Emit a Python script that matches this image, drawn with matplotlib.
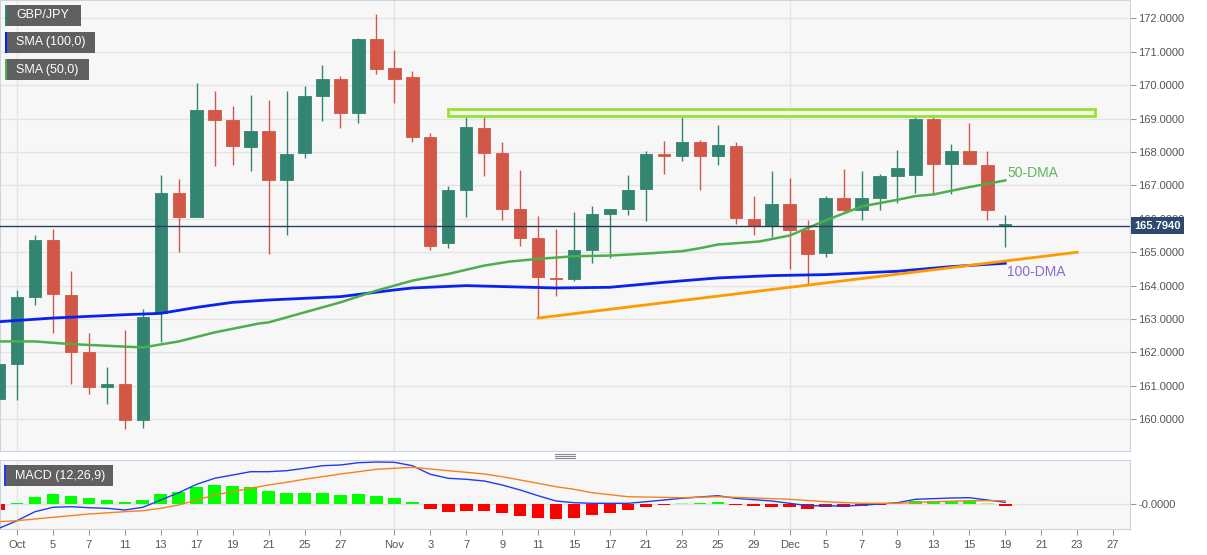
import matplotlib
matplotlib.use("Agg")
import matplotlib.pyplot as plt
from matplotlib.patches import Rectangle
from matplotlib.lines import Line2D
import matplotlib.transforms as mtransforms
import numpy as np

plt.rcParams['font.family'] = ['Liberation Sans', 'DejaVu Sans']

# trading day index: -1 = Sep 30, 0 = Oct 3 ... 55 = Dec 19
day_idx = list(range(-1, 56))

opens = [160.60, 161.65, 163.67, 165.37, 163.73, 162.00, 160.97, 161.05, 159.97, 163.17,
         166.78, 166.05, 169.25, 168.95, 168.15, 168.63, 167.15, 167.97, 169.69, 170.20,
         169.18, 171.37, 170.50, 170.24, 168.44, 165.27, 166.87, 168.73, 167.98, 166.28,
         165.42, 164.24, 164.20, 165.08, 166.15, 166.30, 166.90, 167.93, 167.89, 168.29,
         167.87, 168.17, 166.00, 165.80, 166.45, 165.67, 164.98, 166.63, 166.25, 166.63,
         167.27, 167.32, 168.98, 167.63, 168.02, 167.62, 165.78]
highs = [162.15, 163.87, 165.52, 165.70, 164.43, 162.58, 161.57, 162.67, 163.30, 167.30,
         167.20, 170.08, 169.83, 169.37, 169.72, 169.57, 169.82, 169.97, 170.60, 170.27,
         171.40, 172.12, 171.05, 170.43, 168.58, 166.97, 169.07, 169.07, 168.30, 167.45,
         166.08, 165.70, 166.21, 166.39, 166.30, 167.32, 168.03, 168.32, 169.05, 168.35,
         168.80, 168.29, 166.67, 167.42, 167.23, 165.97, 166.67, 167.50, 167.42, 167.33,
         168.05, 169.05, 169.25, 168.23, 168.87, 168.02, 166.12]
lows = [159.40, 160.57, 163.42, 162.57, 161.07, 160.75, 160.45, 159.70, 159.73, 162.30,
        165.02, 166.05, 167.57, 167.62, 167.42, 164.95, 165.52, 167.83, 168.93, 168.73,
        168.87, 170.33, 169.48, 168.30, 165.07, 165.13, 166.05, 167.28, 165.97, 165.18,
        163.03, 163.68, 164.15, 164.67, 164.82, 166.10, 165.92, 167.35, 167.72, 166.85,
        167.62, 165.85, 165.53, 165.45, 164.50, 164.03, 164.85, 166.17, 165.97, 166.27,
        166.47, 166.78, 166.78, 166.73, 167.63, 165.97, 165.17]
closes = [161.65, 163.65, 165.37, 163.75, 162.00, 160.97, 161.05, 159.97, 163.07, 166.78,
          166.05, 169.25, 168.95, 168.17, 168.63, 167.15, 167.95, 169.69, 170.20, 169.18,
          171.37, 170.47, 170.20, 168.45, 165.20, 166.87, 168.75, 167.98, 166.30, 165.44,
          164.25, 164.19, 165.07, 166.14, 166.30, 166.85, 167.93, 167.89, 168.29, 167.87,
          168.20, 166.02, 165.80, 166.45, 165.67, 164.95, 166.63, 166.25, 166.63, 167.27,
          167.53, 168.98, 167.63, 168.02, 167.63, 166.25, 165.794]

last_price = 165.794

sma100_idx = [-1, 2, 6, 8, 10, 12, 14, 18, 21, 22, 25, 30, 33, 36, 39, 42, 45, 49, 52, 55]
sma100_val = [162.92, 163.03, 163.13, 163.17, 163.35, 163.50, 163.57, 163.67, 163.87, 163.93,
              164.00, 163.93, 163.95, 164.10, 164.23, 164.30, 164.33, 164.43, 164.57, 164.67]

sma50_idx = [-1, 1, 3, 5, 7, 9, 11, 13.5, 14, 16, 18, 20, 21, 22, 24, 26, 27.4, 29, 31, 33,
             35, 37, 38, 39, 41.3, 43, 45, 47, 49, 50, 51, 53, 55]
sma50_val = [162.33, 162.33, 162.25, 162.20, 162.15, 162.33, 162.60, 162.87, 162.90, 163.20,
             163.50, 163.85, 164.00, 164.15, 164.35, 164.60, 164.72, 164.80, 164.88, 164.90,
             164.96, 165.03, 165.12, 165.23, 165.32, 165.50, 165.95, 166.37, 166.57, 166.68,
             166.73, 166.95, 167.15]

trend_idx = [29, 59]
trend_val = [163.03, 165.00]

resist_idx = [24, 60]
resist_val = [169.09, 169.29]

macd_hist = [-6, 1.3, 7.3, 9.7, 8, 5.7, 4, 1.7, 4, 9.7, 12, 17, 19, 18, 16.7, 13, 11.3,
             11.3, 11.3, 9.3, 9.7, 8, 6, 2, -5.3, -7.7, -7, -7, -9.3, -11.7, -13.7, -15,
             -13.7, -11.3, -8.7, -6.3, -3, -1, 0.7, 1, 2, -0.5, -2.3, -2.7, -3.3, -5, -3.3,
             -3, -2, -0.7, 0.7, 3, 3, 3, 2.7, 0.7, -1.7]

macd_idx = [-1, 0, 1, 2, 3, 4, 5, 6, 7, 8, 9, 10, 11, 12, 13, 14, 15, 16, 17, 18, 19, 20,
            21, 22, 23, 24, 25, 26, 27, 28, 29, 30, 31, 32, 34, 35, 37, 39, 40, 42, 43, 44,
            46, 47, 48, 49, 50, 52, 53, 54, 55]
macd_val = [-24.3, -16.7, -7.7, -3.3, -2.7, -3.7, -4.3, -6, -3.3, 4, 11.3, 19.7, 25.7, 29,
            32.3, 32.3, 33.3, 35.7, 38.3, 39, 41.3, 42, 41.7, 38.3, 29.7, 25.7, 24.7, 23, 19,
            14, 8.3, 3, 1.3, 0.7, 0.7, 2.3, 5.7, 8.3, 5.7, 3, 0.7, -1.7, -2, -1.3, 0, 1.3,
            4.7, 6, 6.3, 4, 1.7]

signal_idx = [-1, 0, 2, 4, 6, 7, 8, 9, 10, 11, 12, 13, 14, 15, 16, 17, 18, 19, 20, 21, 22,
              23, 24, 25, 26, 27, 28, 29, 30, 31, 32, 34, 37, 39, 41, 43, 45, 47, 49, 51, 53, 55]
signal_val = [-17.7, -16.7, -13.3, -10, -7.7, -6.7, -4.3, -1, 4, 9, 12.3, 15.7, 19, 21.7,
              24.7, 27.3, 30, 32.3, 34.7, 35.7, 36.7, 35, 33.3, 31.7, 30, 27.3, 24, 20.7,
              17.3, 14.7, 11.3, 7.3, 6.3, 7.3, 6, 4.7, 2.3, 0.7, 0.7, 2.3, 3.3, 3.3]

tick_idx = [0, 2, 4, 6, 8, 10, 12, 14, 16, 18, 21, 23, 25, 27, 29, 31, 33, 35, 37, 39, 41,
            43, 45, 47, 49, 51, 53, 55, 57, 59, 61]
tick_labels = ["Oct", "5", "7", "11", "13", "17", "19", "21", "25", "27", "Nov", "3", "7",
               "9", "11", "15", "17", "21", "23", "25", "29", "Dec", "5", "7", "9", "13",
               "15", "19", "21", "23", "27"]
month_idx = [0, 21, 43]

W, H = 1207, 555
fig = plt.figure(figsize=(W / 100, H / 100), dpi=100)
fig.patch.set_facecolor("white")

ax = fig.add_axes([0, 1 - 451 / H, 1130 / W, 451 / H])
axm = fig.add_axes([0, 1 - 529 / H, 1130 / W, 69 / H])

xmin, xmax = -0.946, 61.94
GREEN = "#338571"
RED = "#d35746"
GRID = "#e4e4e4"
SPINE = "#cdd3e4"
TXT = "#555555"

for a in (ax, axm):
    a.set_facecolor("#f7f7f7")
    a.set_xlim(xmin, xmax)
    for s in a.spines.values():
        s.set_color(SPINE)
    for m in month_idx:
        a.axvline(m, color=GRID, lw=1, zorder=0)

# candles
for i, o, h, l, c in zip(day_idx, opens, highs, lows, closes):
    col = GREEN if c >= o else RED
    ax.plot([i, i], [l, h], color=col, lw=1, zorder=2, solid_capstyle="butt")
    bot = min(o, c)
    hgt = max(abs(c - o), 0.05)
    ax.add_patch(Rectangle((i - 0.345, bot), 0.69, hgt, facecolor=col,
                           edgecolor=col, lw=0.6, zorder=3))

ax.plot(sma100_idx, sma100_val, color="#0a22f0", lw=2, zorder=4)
ax.plot(sma50_idx, sma50_val, color="#4cae4c", lw=1.8, zorder=4)
ax.plot(trend_idx, trend_val, color="#ff9a00", lw=2, zorder=4)
ax.add_patch(Rectangle((resist_idx[0], resist_val[0]), resist_idx[1] - resist_idx[0],
                       resist_val[1] - resist_val[0], facecolor="#f4faec",
                       edgecolor="#96e234", lw=2, zorder=4))
ax.axhline(last_price, color="#2b3f5c", lw=1, zorder=5)

ax.text(55.1, 167.37, "50-DMA", color="#5cb85c", fontsize=10, va="center", zorder=6)
ax.text(55.1, 164.41, "100-DMA", color="#8a6cd0", fontsize=10, va="center", zorder=6)

ax.set_ylim(159.05, 172.55)
ax.set_yticks(np.arange(160, 173, 1))
ax.yaxis.set_major_formatter(matplotlib.ticker.FormatStrFormatter("%.4f"))
ax.yaxis.tick_right()
ax.tick_params(axis="y", colors="#999999", labelcolor=TXT, labelsize=8, length=4, pad=2)
ax.set_xticks([])
ax.grid(axis="y", color=GRID, lw=1, zorder=0)
ax.set_axisbelow(True)

tr = mtransforms.blended_transform_factory(ax.transAxes, ax.transData)
ax.text(1.004, last_price, "165.7940", transform=tr, color="white", fontsize=8,
        fontweight="bold", va="center", ha="left", zorder=10, clip_on=False,
        bbox=dict(boxstyle="square,pad=0.3", fc="#2d4a6e", ec="none"))

# MACD panel
hist_cols = []
for v in macd_hist:
    if v >= 0:
        hist_cols.append("#a8f0a8" if v < 0.9 else "#00ff00")
    else:
        hist_cols.append("#ff0000")
axm.bar(day_idx, macd_hist, width=0.7, color=hist_cols, zorder=2)
axm.plot(macd_idx, macd_val, color="#1f3cf0", lw=1, zorder=3)
axm.plot(signal_idx, signal_val, color="#f5821f", lw=1, zorder=3)
axm.axhline(0, color=GRID, lw=1, zorder=1)
axm.set_ylim(-25, 44)
axm.set_yticks([0])
axm.set_yticklabels(["-0.0000"])
axm.yaxis.tick_right()
axm.tick_params(axis="y", colors="#999999", labelcolor=TXT, labelsize=8, length=4, pad=2)
axm.set_xticks(tick_idx)
axm.set_xticklabels(tick_labels)
axm.tick_params(axis="x", colors="#999999", labelcolor=TXT, labelsize=8, length=4, pad=4)

# legend boxes
def label_box(x0, y0, w, h, text, strip):
    fig.add_artist(Rectangle((x0 / W, 1 - (y0 + h) / H), w / W, h / H,
                             transform=fig.transFigure, facecolor="#606060",
                             edgecolor="none", zorder=20))
    fig.add_artist(Rectangle((x0 / W, 1 - (y0 + h) / H), 2 / W, h / H,
                             transform=fig.transFigure, facecolor=strip,
                             edgecolor="none", zorder=21))
    fig.text((x0 + 11) / W, 1 - (y0 + h / 2) / H, text, color="white", fontsize=9,
             va="center", ha="left", zorder=22)

label_box(5, 5, 76, 21, "GBP/JPY", GREEN)
label_box(5, 32, 90, 21, "SMA (100,0)", "#0022ff")
label_box(5, 59, 84, 21, "SMA (50,0)", "#4caf50")
label_box(4, 465, 109, 21, "MACD (12,26,9)", "#1f3cf0")

# panel splitter handle
for yy in (454.3, 456.3, 458.3):
    fig.add_artist(Line2D([555 / W, 575 / W], [1 - yy / H, 1 - yy / H],
                          transform=fig.transFigure, color="#888888", lw=0.8))

fig.savefig("out.png", dpi=100)
